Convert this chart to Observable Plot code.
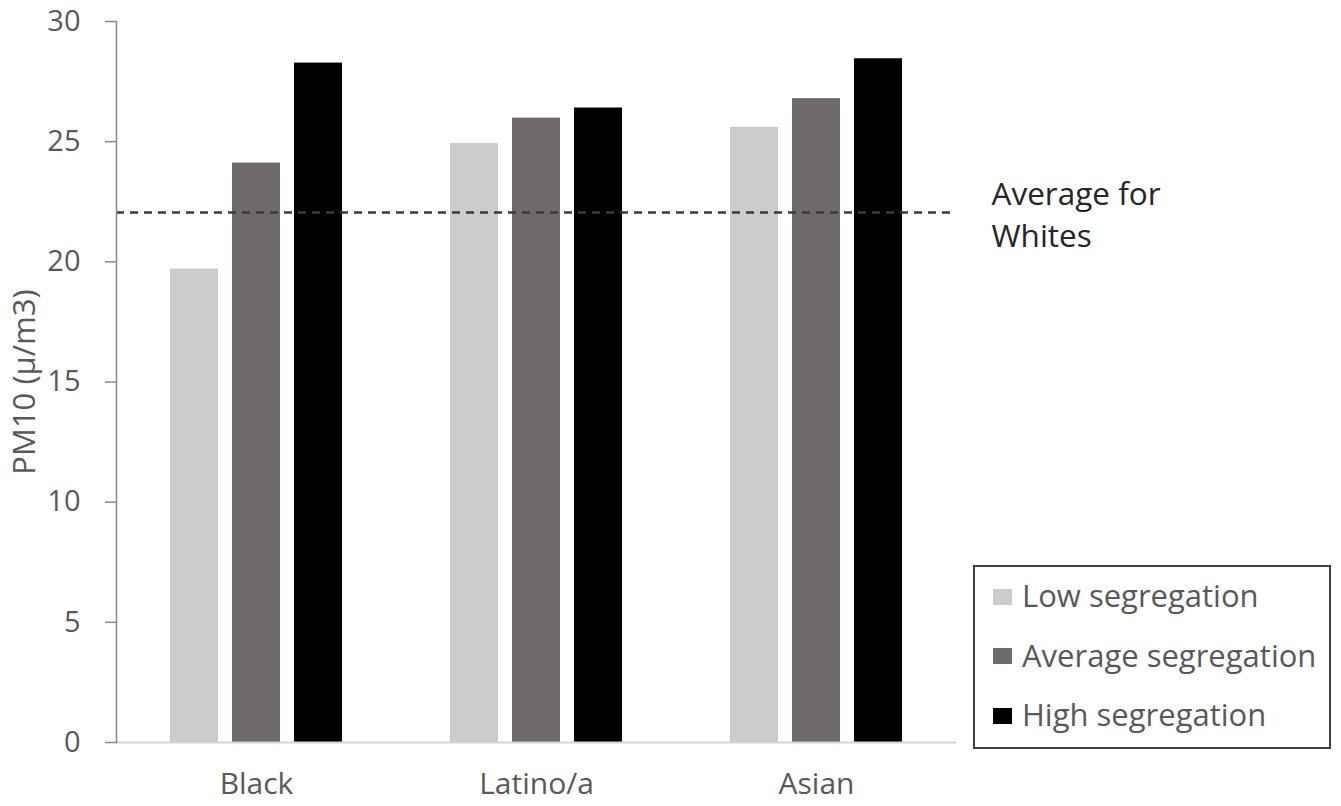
<!DOCTYPE html>
<html>
<head>
<meta charset="utf-8">
<script src="https://cdn.jsdelivr.net/npm/d3@7"></script>
<script src="https://cdn.jsdelivr.net/npm/@observablehq/plot@0.6"></script>
<style>
  html, body { margin: 0; padding: 0; background: #fff; }
  #wrap { position: relative; width: 1341px; height: 806px; font-family: "Open Sans", sans-serif; }
  #legend { position: absolute; left: 973px; top: 565px; width: 358px; height: 184px; box-sizing: border-box;
            border: 2px solid #404040; padding: 0 0 0 18px; display: flex; flex-direction: column; }
  .row { height: 59.5px; display: flex; align-items: center; }
  .sw { width: 19px; height: 16px; margin-right: 10px; flex: none; }
  .lbl { font-size: 31px; color: #595959; line-height: 1; position: relative; top: -1px; }
</style>
</head>
<body>
<div id="wrap"><div id="chart"></div><div id="legend"></div></div>
<script>
const groups = ["Black", "Latino/a", "Asian"];
const segs = ["Low segregation", "Average segregation", "High segregation"];
const segColors = ["#cccccc", "#6f6a6a", "#000000"];
const lowVals = [19.7, 24.92, 25.6];
const avgVals = [24.11, 25.98, 26.79];
const highVals = [28.27, 26.4, 28.45];
const whiteAvg = 22.05;
const yTicks = [0, 5, 10, 15, 20, 25, 30];
const yLabel = "PM10 (\u00b5/m3)";
const annotation = "Average for\nWhites";

const series = [lowVals, avgVals, highVals];
const data = [];
groups.forEach((g, i) => segs.forEach((s, j) => data.push({group: g, seg: s, value: series[j][i]})));

const chart = Plot.plot({
  width: 1341,
  height: 806,
  marginLeft: 116,
  marginRight: 385,
  marginTop: 21,
  marginBottom: 64,
  style: {fontFamily: "Open Sans, sans-serif", background: "#fff"},
  fx: {domain: groups, padding: 0, axis: null},
  x: {domain: segs, paddingInner: 0.226, paddingOuter: 0.871, axis: null},
  y: {domain: [0, 30], axis: null},
  color: {domain: segs, range: segColors},
  marks: [
    Plot.barY(data, {fx: "group", x: "seg", y: "value", fill: "seg"}),
    Plot.ruleY([0], {stroke: "#d4d4d4", strokeWidth: 2}),
    Plot.ruleY([whiteAvg], {stroke: "#3a3a3a", strokeWidth: 2.5, strokeDasharray: "8,6"}),
    Plot.frame({anchor: "left", facetAnchor: "left", stroke: "#888888", strokeWidth: 1.5}),
    Plot.axisY({ticks: yTicks, tickSize: 11, tickPadding: 25, fontSize: 29, stroke: "#888888", strokeWidth: 1.5,
                fill: "#595959", label: null}),
    Plot.axisY({ticks: [], fontSize: 31, fill: "#595959", label: yLabel, labelAnchor: "center",
                labelOffset: 104, labelArrow: "none"}),
    Plot.axisFx({anchor: "bottom", tickSize: 0, tickPadding: 30, fontSize: 30, fill: "#595959", label: null}),
    Plot.text([{fx: groups[2], y: whiteAvg, t: annotation}], {fx: "fx", y: "y", text: "t", frameAnchor: "right",
                textAnchor: "start", dx: 35, fontSize: 31.5, lineHeight: 1.34, fill: "#262626"})
  ]
});
document.getElementById("chart").appendChild(chart);

const legend = d3.select("#legend");
segs.forEach((s, i) => {
  const row = legend.append("div").attr("class", "row");
  row.append("div").attr("class", "sw").style("background", segColors[i]);
  row.append("div").attr("class", "lbl").text(s);
});
</script>
</body>
</html>
